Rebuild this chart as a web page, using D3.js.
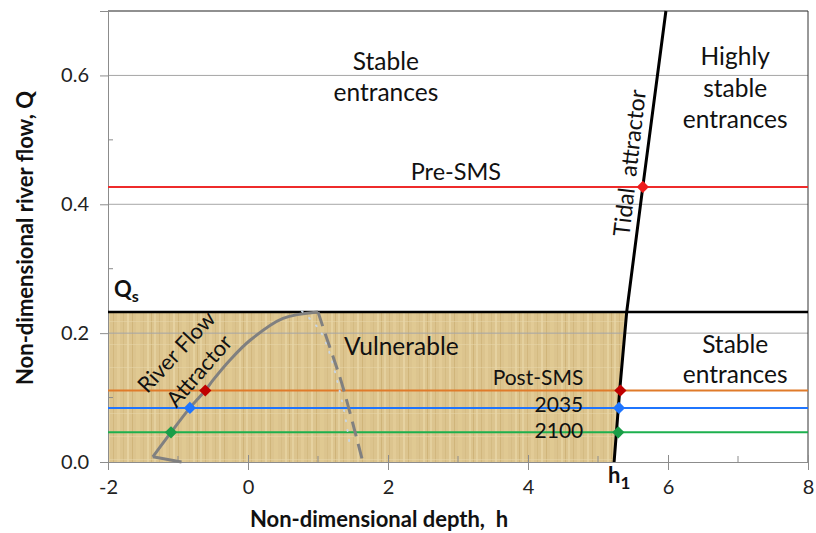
<!DOCTYPE html>
<meta charset="utf-8">
<script src="https://cdn.jsdelivr.net/npm/d3@7/dist/d3.min.js"></script>
<style>
  body { margin: 0; background: #fff; }
  text { font-family: Lato, "Open Sans", sans-serif; fill: #111; }
</style>
<div id="chart"></div>
<script>

// axis ticks
var xTicks = [-2, 0, 2, 4, 6, 8];
var xMinor = [-1, 1, 3, 5, 7];
var yTicks = [0, 0.2, 0.4, 0.6];
var yMinor = [0.1, 0.3, 0.5];

// threshold river flow Qs
var qs = 0.233;

// scenario flows
var scenarios = ["Pre-SMS", "Post-SMS", "2035", "2100"];
var scenarioQ = [0.427, 0.111, 0.084, 0.046];
var scenarioColor = ["#ee2b2b", "#e07b2a", "#1f75fe", "#1db04e"];
var tidalMarkH = [5.64, 5.32, 5.30, 5.29];
var tidalMarkColor = ["#ee1c1c", "#c00000", "#1f75fe", "#1a9e48"];
var riverMarkH = [null, -0.61, -0.83, -1.10];

// tidal attractor
var tidalH = [5.23, 5.31, 5.41, 5.64, 5.97];
var tidalQ = [0, 0.111, 0.233, 0.427, 0.7];

// river flow attractor (first point is the small hook at the bottom)
var riverH = [-0.95, -1.36, -1.10, -0.83, -0.61, -0.50, -0.26, 0.03, 0.50, 1.0];
var riverQ = [0, 0.008, 0.046, 0.084, 0.111, 0.127, 0.158, 0.189, 0.223, 0.233];

// dashed limit and faint dotted line
var limitH = [1.0, 1.1, 1.34, 1.64];
var limitQ = [0.233, 0.2, 0.122, 0];
var dotH = [0.77, 1.05, 1.34, 1.46];
var dotQ = [0.234, 0.2, 0.096, 0.022];

var margin = {top: 11, right: 8, bottom: 71, left: 108},
  width = 816 - margin.left - margin.right,
  height = 533 - margin.top - margin.bottom;

var svg = d3.select("#chart")
  .append("svg")
    .attr("width", 816)
    .attr("height", 533);

var g = svg.append("g")
    .attr("transform", "translate(" + margin.left + "," + margin.top + ")");

var x = d3.scaleLinear().domain([-2, 8]).range([0, width]);
var y = d3.scaleLinear().domain([0, 0.7]).range([height, 0]);

// parchment texture for the vulnerable region
var defs = svg.append("defs");
var pat = defs.append("pattern")
    .attr("id", "paper")
    .attr("patternUnits", "userSpaceOnUse")
    .attr("width", 46).attr("height", 23);
pat.append("rect").attr("width", 46).attr("height", 23).attr("fill", "#dcc48e");
var stripes = [[0, 2, "#e6d3a2"], [5, 1, "#cfb47a"], [9, 3, "#e3cd98"], [15, 1, "#d2b980"],
  [19, 2, "#e8d6a6"], [24, 1, "#cdb176"], [28, 4, "#e1ca94"], [35, 1, "#d4bb83"],
  [39, 2, "#e7d4a3"], [43, 1, "#ccb074"]];
stripes.forEach(function(s) {
  pat.append("rect").attr("x", s[0]).attr("width", s[1]).attr("height", 23)
    .attr("fill", s[2]).attr("opacity", 0.8);
});
pat.append("rect").attr("y", 11).attr("width", 46).attr("height", 1)
  .attr("fill", "#e8d8ab").attr("opacity", 0.5);

// shaded vulnerable region: left edge to tidal attractor, below Qs
var regionPts = [[-2, 0]];
tidalQ.forEach(function(q, i) { if (q < qs) regionPts.push([tidalH[i], q]); });
regionPts.push([tidalH[2], qs], [-2, qs]);
g.append("path")
  .attr("d", d3.line().x(function(d) { return x(d[0]); }).y(function(d) { return y(d[1]); })(regionPts) + "Z")
  .attr("fill", "url(#paper)");

// gridlines
g.selectAll(".grid")
  .data(yTicks.filter(function(d) { return d > 0; }))
  .enter().append("line")
    .attr("x1", 0).attr("x2", width)
    .attr("y1", function(d) { return y(d); })
    .attr("y2", function(d) { return y(d); })
    .style("stroke", "#a6a6a6").style("stroke-width", 1);

// frame: top black, right dark
g.append("line").attr("x1", 0).attr("x2", width).attr("y1", 0).attr("y2", 0)
  .style("stroke", "#222").style("stroke-width", 1.2);
g.append("line").attr("x1", width).attr("x2", width).attr("y1", 0).attr("y2", height)
  .style("stroke", "#333").style("stroke-width", 1);

// axes
var xAxis = g.append("g")
    .attr("transform", "translate(0," + height + ")")
    .call(d3.axisBottom(x).tickValues(xTicks).tickSize(8).tickPadding(10)
      .tickFormat(function(d) { return String(d); }));
xAxis.selectAll(".tick line").attr("y1", -7);
var yAxis = g.append("g")
    .call(d3.axisLeft(y).tickValues(yTicks).tickSize(8).tickPadding(11).tickFormat(d3.format(".1f")));
[xAxis, yAxis].forEach(function(a) {
  a.select(".domain").style("stroke", "#8c8c8c");
  a.selectAll(".tick line").style("stroke", "#8c8c8c");
  a.selectAll(".tick text").style("font-size", "20px").style("font-family", "Lato, sans-serif").style("fill", "#222");
});
g.selectAll(".xminor").data(xMinor).enter().append("line")
  .attr("x1", function(d) { return x(d); }).attr("x2", function(d) { return x(d); })
  .attr("y1", height - 6).attr("y2", height).style("stroke", "#8c8c8c");
g.selectAll(".yminor").data(yMinor).enter().append("line")
  .attr("x1", 0).attr("x2", 5)
  .attr("y1", function(d) { return y(d); }).attr("y2", function(d) { return y(d); })
  .style("stroke", "#8c8c8c");

// Qs line
g.append("line").attr("x1", 0).attr("x2", width).attr("y1", y(qs)).attr("y2", y(qs))
  .style("stroke", "#000").style("stroke-width", 2.5);

// scenario lines
g.selectAll(".scen").data(scenarioQ).enter().append("line")
  .attr("x1", 0).attr("x2", width)
  .attr("y1", function(d) { return y(d); }).attr("y2", function(d) { return y(d); })
  .style("stroke", function(d, i) { return scenarioColor[i]; })
  .style("stroke-width", 2);

// river flow attractor
var line = d3.line().x(function(d) { return x(d[0]); }).y(function(d) { return y(d[1]); });
var riverPts = riverH.map(function(h, i) { return [h, riverQ[i]]; });
g.append("path").attr("d", line(riverPts.slice(0, 2)))
  .attr("fill", "none").style("stroke", "#808080").style("stroke-width", 3);
g.append("path").attr("d", line.curve(d3.curveCatmullRom)(riverPts.slice(1)))
  .attr("fill", "none").style("stroke", "#808080").style("stroke-width", 3);

g.append("path").attr("d", line(dotH.map(function(h, i) { return [h, dotQ[i]]; })))
  .attr("fill", "none").style("stroke", "#c9d6e3").style("stroke-width", 2)
  .style("stroke-dasharray", "1,9").style("stroke-linecap", "round");
g.append("path").attr("d", line(limitH.map(function(h, i) { return [h, limitQ[i]]; })))
  .attr("fill", "none").style("stroke", "#808080").style("stroke-width", 3)
  .style("stroke-dasharray", "15,8");
line.curve(d3.curveLinear);

// tidal attractor
g.append("path").attr("d", line(tidalH.map(function(h, i) { return [h, tidalQ[i]]; })))
  .attr("fill", "none").style("stroke", "#000").style("stroke-width", 3);

// diamonds
var diamond = d3.symbol().type(d3.symbolDiamond2).size(95);
g.selectAll(".tmark").data(scenarioQ).enter().append("path")
  .attr("d", diamond)
  .attr("transform", function(d, i) { return "translate(" + x(tidalMarkH[i]) + "," + y(d) + ")"; })
  .style("fill", function(d, i) { return tidalMarkColor[i]; });
g.selectAll(".rmark").data(scenarioQ.slice(1)).enter().append("path")
  .attr("d", diamond)
  .attr("transform", function(d, i) { return "translate(" + x(riverMarkH[i + 1]) + "," + y(d) + ")"; })
  .style("fill", function(d, i) { return tidalMarkColor[i + 1]; });

// annotations
function label(txt, h, q, size, anchor) {
  return g.append("text").attr("x", x(h)).attr("y", y(q))
    .style("font-size", size + "px").style("text-anchor", anchor || "middle").text(txt);
}
label("Stable", 1.97, 0.609, 24.5);
label("entrances", 1.97, 0.561, 24.5);
label("Highly", 6.96, 0.616, 24.5);
label("stable", 6.96, 0.566, 24.5);
label("entrances", 6.96, 0.518, 24.5);
label("Pre-SMS", 2.97, 0.437, 23.5);
label("Vulnerable", 2.19, 0.166, 24.5);
label("Post-SMS", 4.79, 0.119, 21, "end");
label("2035", 4.79, 0.078, 21, "end");
label("2100", 4.79, 0.038, 21, "end");
label("Stable", 6.96, 0.169, 24.5);
label("entrances", 6.96, 0.122, 24.5);

function rotLabel(txt, px, py, ang, size) {
  g.append("text")
    .attr("transform", "translate(" + px + "," + py + ") rotate(" + ang + ")")
    .style("font-size", size + "px").style("text-anchor", "middle").text(txt);
}
rotLabel("attractor", 641 - margin.left, 134 - margin.top, -83.4, 23);
rotLabel("Tidal", 632 - margin.left, 213 - margin.top, -83.4, 23);
rotLabel("River Flow", 182 - margin.left, 357 - margin.top, -47, 22);
rotLabel("Attractor", 205 - margin.left, 376 - margin.top, -49, 22);

// Qs and h1
var qsText = g.append("text").attr("x", 6).attr("y", y(qs) - 15)
  .style("font-size", "22px").style("font-weight", "bold");
qsText.append("tspan").text("Q");
qsText.append("tspan").attr("dy", 5).style("font-size", "16px").text("s");
var h1Text = g.append("text").attr("x", x(tidalH[0]) - 6).attr("y", height + 21)
  .style("font-size", "22px").style("font-weight", "bold");
h1Text.append("tspan").text("h");
h1Text.append("tspan").attr("dy", 6).style("font-size", "17px").text("1");

// axis titles
svg.append("text")
  .attr("x", 379).attr("y", 527)
  .style("font-size", "22px").style("font-weight", "bold").style("text-anchor", "middle")
  .text("Non-dimensional depth,\u00a0 h");
svg.append("text")
  .attr("transform", "translate(33,238) rotate(-90)")
  .style("font-size", "22px").style("font-weight", "bold").style("text-anchor", "middle")
  .text("Non-dimensional river flow, Q");

</script>
